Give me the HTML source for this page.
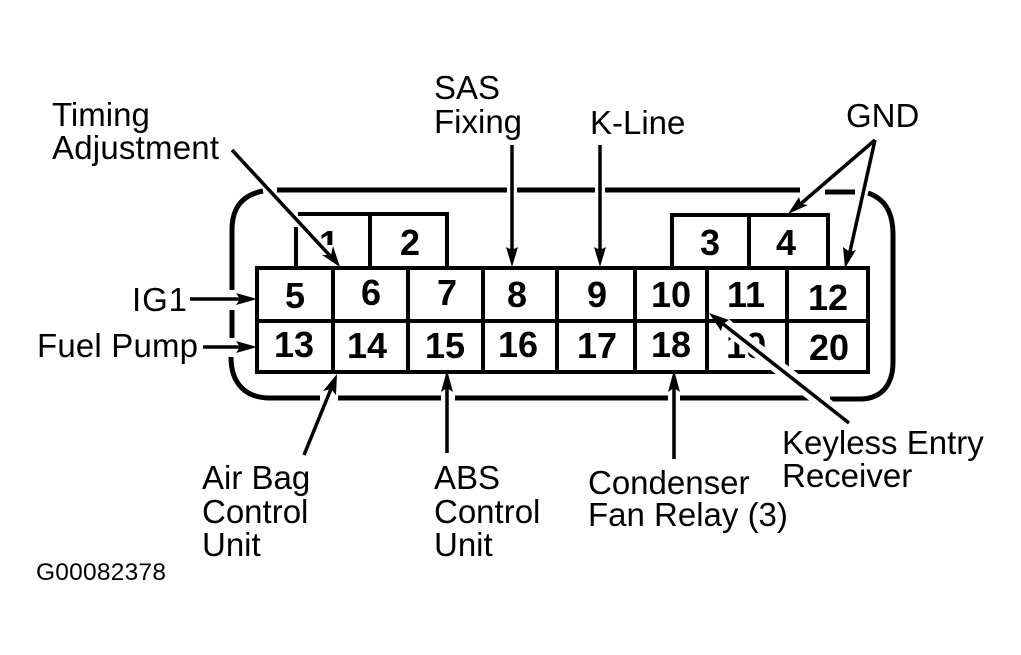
<!DOCTYPE html>
<html>
<head>
<meta charset="utf-8">
<style>
html,body{margin:0;padding:0;background:#fff;width:1021px;height:655px;overflow:hidden}
svg{display:block}
.l{font-family:"Liberation Sans",sans-serif;font-size:33px;fill:#000}
.n{font-family:"Liberation Sans",sans-serif;font-size:36px;font-weight:bold;fill:#000;text-anchor:middle}
.s{fill:none;stroke:#000;stroke-width:5;stroke-linecap:butt}
.b{fill:none;stroke:#000;stroke-width:4}
.a{fill:none;stroke:#000;stroke-width:3.5}
</style>
</head>
<body>
<svg width="1021" height="655" viewBox="0 0 1021 655" xmlns="http://www.w3.org/2000/svg">
<defs><clipPath id="c1"><rect x="300" y="220" width="60" height="25"/></clipPath></defs>
<rect width="1021" height="655" fill="#fff"/>

<!-- shell -->
<path class="s" d="M263 191C242 195 232 208 232 230V290"/>
<path class="s" d="M232 310V338"/>
<path class="s" d="M231 357C231 384 246 398 270 398H320"/>
<path class="s" d="M338 398H441M455 398H668M680 398H813"/>
<path class="s" d="M830 399H860C882 399 893 384 893 362V235C893 212 885 199 868 193"/>
<path class="s" d="M277 190H507M517 190H595M605 190H800M825 192H855"/>

<!-- upper left tabs -->
<path class="b" d="M296 227V268M298 214H447V268M370 214V268"/>
<!-- upper right tabs -->
<path class="b" d="M672 268V215H828V268M749 215V268"/>

<!-- main grid -->
<path class="b" d="M257 268H868V372H257ZM257 321H868M333 268V372M408 268V372M483 268V372M557 268V372M635 268V372M707 268V372M787 268V372"/>

<!-- numbers -->
<text class="n" x="329" y="256" clip-path="url(#c1)">1</text>
<text class="n" x="410" y="255">2</text>
<text class="n" x="710" y="255">3</text>
<text class="n" x="786" y="255">4</text>
<text class="n" x="295" y="308">5</text>
<text class="n" x="371" y="305">6</text>
<text class="n" x="447" y="305">7</text>
<text class="n" x="517" y="307">8</text>
<text class="n" x="597" y="307">9</text>
<text class="n" x="671" y="307">10</text>
<text class="n" x="746" y="307">11</text>
<text class="n" x="828" y="310">12</text>
<text class="n" x="294" y="357">13</text>
<text class="n" x="367" y="358">14</text>
<text class="n" x="445" y="358">15</text>
<text class="n" x="518" y="357">16</text>
<text class="n" x="597" y="358">17</text>
<text class="n" x="671" y="357">18</text>
<text class="n" x="746" y="358">19</text>
<text class="n" x="829" y="360">20</text>

<!-- arrows -->
<path d="M720 321L849 423" stroke="#fff" stroke-width="14" fill="none"/>
<path class="b" d="M733 321H787M787 321V363"/>
<path class="a" d="M232 150L333 259"/>
<polygon points="340,267 322,255 331,255 333,246"/>
<path class="a" d="M512 145V255"/>
<polygon points="512,267 506,247 512,250 518,247"/>
<path class="a" d="M600 145V255"/>
<polygon points="600,267 594,247 600,250 606,247"/>
<path class="a" d="M875 140L797 207"/>
<polygon points="788,214 799,197 801,204 808,205"/>
<path class="a" d="M875 140L849 256"/>
<polygon points="845,268 843,247 850,252 856,250"/>
<path class="a" d="M190 299H247"/>
<polygon points="257,299 236,293 240,299 236,305"/>
<path class="a" d="M203 347H247"/>
<polygon points="257,347 236,341 240,347 236,353"/>
<path class="a" d="M304 455L333 384"/>
<polygon points="337,374 336,395 331,389 323,391"/>
<path class="a" d="M447 453V382"/>
<polygon points="447,370 441,392 447,388 453,392"/>
<path class="a" d="M674 459V382"/>
<polygon points="674,370 668,392 674,388 680,392"/>
<path class="a" d="M849 423L718 320"/>
<polygon points="709,313 729,320 723,324 721,331"/>

<!-- labels -->
<text class="l" x="52" y="126">Timing</text>
<text class="l" x="52" y="159" textLength="167">Adjustment</text>
<text class="l" x="434" y="99">SAS</text>
<text class="l" x="434" y="133">Fixing</text>
<text class="l" x="590" y="134">K-Line</text>
<text class="l" x="846" y="127">GND</text>
<text class="l" x="132" y="311" textLength="55">IG1</text>
<text class="l" x="37" y="357" textLength="161">Fuel Pump</text>
<text class="l" x="202" y="489">Air Bag</text>
<text class="l" x="202" y="523">Control</text>
<text class="l" x="202" y="556">Unit</text>
<text class="l" x="434" y="489">ABS</text>
<text class="l" x="434" y="523">Control</text>
<text class="l" x="434" y="556">Unit</text>
<text class="l" x="588" y="494">Condenser</text>
<text class="l" x="588" y="526">Fan Relay (3)</text>
<text class="l" x="782" y="454">Keyless Entry</text>
<text class="l" x="782" y="487">Receiver</text>
<text x="36" y="580" textLength="130" style="font-family:'Liberation Sans',sans-serif;font-size:24.5px;fill:#000">G00082378</text>
</svg>
</body>
</html>
